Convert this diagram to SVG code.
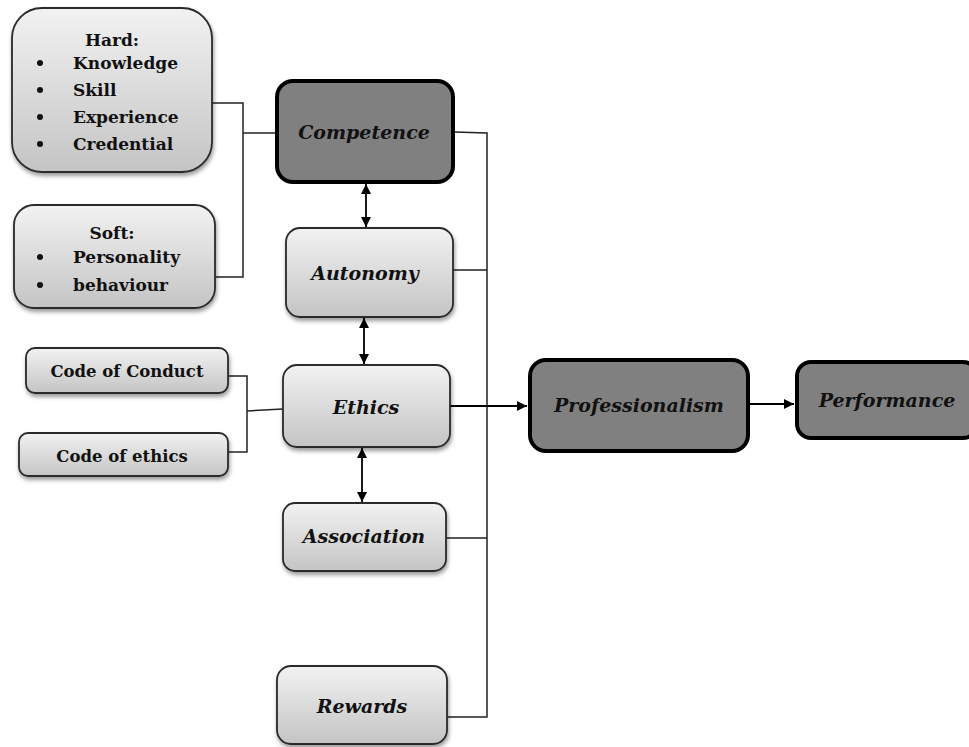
<svg xmlns="http://www.w3.org/2000/svg" width="969" height="747" viewBox="0 0 969 747">
<defs>
<linearGradient id="lg" x1="0" y1="0" x2="0" y2="1">
<stop offset="0" stop-color="#f2f2f2"/>
<stop offset="1" stop-color="#c4c4c4"/>
</linearGradient>
<filter id="sh" x="-10%" y="-10%" width="130%" height="140%">
<feGaussianBlur in="SourceAlpha" stdDeviation="2"/>
<feOffset dx="1" dy="3" result="o"/>
<feComponentTransfer><feFuncA type="linear" slope="0.4"/></feComponentTransfer>
<feMerge><feMergeNode/><feMergeNode in="SourceGraphic"/></feMerge>
</filter>
<marker id="ah" viewBox="0 0 10 10" refX="10" refY="5" markerWidth="10" markerHeight="10" markerUnits="userSpaceOnUse" orient="auto-start-reverse">
<path d="M0,0 L10,5 L0,10 z" fill="#000"/>
</marker>
<style>
.light{fill:url(#lg);stroke:#2a2a2a;stroke-width:1.8;filter:url(#sh)}
.dark{fill:#808080;stroke:#000;stroke-width:4}
.t{font-family:"DejaVu Serif","Liberation Serif",serif;font-weight:bold;fill:#111;font-size:17px}
.ti{font-family:"DejaVu Serif","Liberation Serif",serif;font-weight:bold;font-style:italic;fill:#111;text-anchor:middle;font-size:19px}
.b{fill:#111}
.ln{fill:none;stroke:#222;stroke-width:1.5}
.ar{fill:none;stroke:#000;stroke-width:1.8}
</style>
</defs>
<rect width="969" height="747" fill="#fff"/>
<g id="connectors">
<polyline class="ln" points="212,103 243,103 243,277 213,277"/>
<line class="ln" x1="243" y1="133" x2="276" y2="133"/>
<polyline class="ln" points="454,132 487,133 487,717 447,717"/>
<line class="ln" x1="453" y1="270" x2="487" y2="270"/>
<line class="ln" x1="446" y1="538" x2="487" y2="538"/>
<polyline class="ln" points="228,376 247,376 247,452 228,452"/>
<line class="ln" x1="247" y1="411" x2="283" y2="409"/>
<line class="ar" x1="366" y1="184" x2="366" y2="227" marker-start="url(#ah)" marker-end="url(#ah)"/>
<line class="ar" x1="364" y1="318" x2="364" y2="364" marker-start="url(#ah)" marker-end="url(#ah)"/>
<line class="ar" x1="362" y1="448" x2="362" y2="502" marker-start="url(#ah)" marker-end="url(#ah)"/>
<line class="ar" x1="450" y1="406" x2="527" y2="406" marker-end="url(#ah)"/>
<line class="ar" x1="750" y1="404" x2="794" y2="404" marker-end="url(#ah)"/>
</g>
<g id="hard">
<rect class="light" x="12" y="8" width="200" height="164" rx="30"/>
<text class="t" x="112" y="46" text-anchor="middle">Hard:</text>
<circle class="b" cx="40" cy="63" r="3"/><text class="t" x="73" y="69">Knowledge</text>
<circle class="b" cx="40" cy="90" r="3"/><text class="t" x="73" y="96">Skill</text>
<circle class="b" cx="40" cy="117" r="3"/><text class="t" x="73" y="123">Experience</text>
<circle class="b" cx="40" cy="144" r="3"/><text class="t" x="73" y="150">Credential</text>
</g>
<g id="soft">
<rect class="light" x="14" y="205" width="201" height="103" rx="20"/>
<text class="t" x="112" y="239" text-anchor="middle">Soft:</text>
<circle class="b" cx="40" cy="257" r="3"/><text class="t" x="73" y="263">Personality</text>
<circle class="b" cx="40" cy="285" r="3"/><text class="t" x="73" y="291">behaviour</text>
</g>
<g id="competence">
<rect class="dark" x="277" y="81" width="176" height="101" rx="16"/>
<text class="ti" x="364" y="139">Competence</text>
</g>
<g id="autonomy">
<rect class="light" x="286" y="228" width="167" height="89" rx="14"/>
<text class="ti" x="365" y="280">Autonomy</text>
</g>
<g id="ethics">
<rect class="light" x="283" y="365" width="167" height="82" rx="14"/>
<text class="ti" x="366" y="414">Ethics</text>
</g>
<g id="association">
<rect class="light" x="283" y="503" width="163" height="68" rx="12"/>
<text class="ti" x="364" y="543">Association</text>
</g>
<g id="rewards">
<rect class="light" x="277" y="666" width="170" height="78" rx="14"/>
<text class="ti" x="362" y="713">Rewards</text>
</g>
<g id="code-of-conduct">
<rect class="light" x="26" y="348" width="202" height="45" rx="9"/>
<text class="t" x="127" y="377" font-size="16.5" text-anchor="middle" style="font-size:16.5px">Code of Conduct</text>
</g>
<g id="code-of-ethics">
<rect class="light" x="19" y="433" width="209" height="43" rx="9"/>
<text class="t" x="122" y="462" text-anchor="middle" style="font-size:16.5px">Code of ethics</text>
</g>
<g id="professionalism">
<rect class="dark" x="530" y="360" width="218" height="91" rx="16"/>
<text class="ti" x="639" y="412">Professionalism</text>
</g>
<g id="performance">
<rect class="dark" x="797" y="362" width="180" height="76" rx="14"/>
<text class="ti" x="887" y="407">Performance</text>
</g>
</svg>
